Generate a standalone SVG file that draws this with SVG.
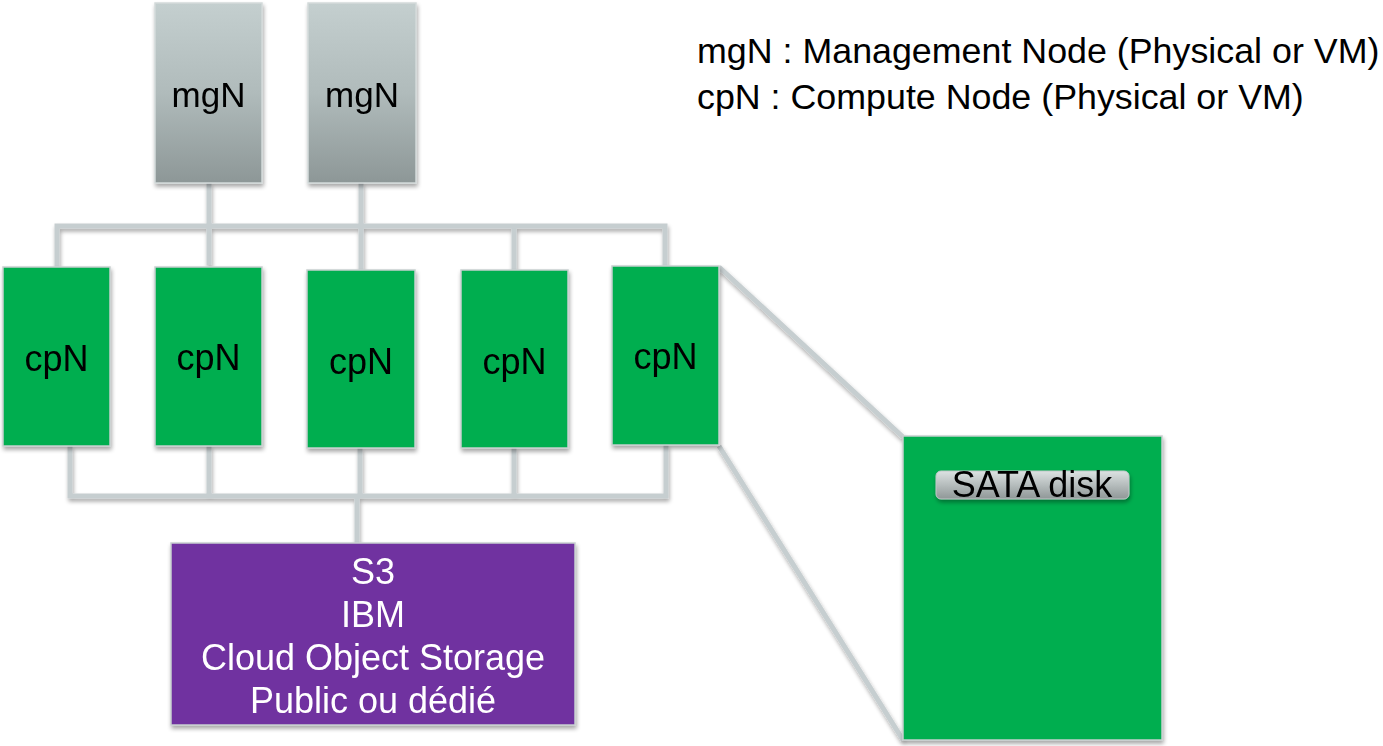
<svg xmlns="http://www.w3.org/2000/svg" width="1383" height="746" viewBox="0 0 1383 746">
<style>
.lbl{font-family:"Liberation Sans",Arial,sans-serif;font-size:36px;fill:#000;text-anchor:middle}
.mgl{font-size:35px}
.wlbl{font-family:"Liberation Sans",Arial,sans-serif;font-size:36px;fill:#fff;text-anchor:middle}
.leg{font-family:"Liberation Sans",Arial,sans-serif;font-size:35.8px;fill:#000}
.mg{fill:url(#gGray);stroke:#d3dada;stroke-width:1.5}
.cp{fill:#00AE4F;stroke:#c7cfcf;stroke-width:1.5}
.st{fill:#7030A0;stroke:#c7cfcf;stroke-width:1.5}
.conn{fill:none;stroke:#C6CED0;stroke-width:5;stroke-linejoin:miter}
</style>
<defs>
<linearGradient id="gGray" x1="0" y1="0" x2="0" y2="1">
<stop offset="0" stop-color="#C4CFCF"/>
<stop offset="0.5" stop-color="#B0BBBB"/>
<stop offset="1" stop-color="#8D9797"/>
</linearGradient>
<linearGradient id="gBtn" x1="0" y1="0" x2="0" y2="1">
<stop offset="0" stop-color="#DCE2E2"/>
<stop offset="1" stop-color="#8F9797"/>
</linearGradient>
<filter id="sh" x="-10%" y="-10%" width="130%" height="130%">
<feGaussianBlur in="SourceAlpha" stdDeviation="2"/>
<feOffset dx="1" dy="3" result="b"/>
<feComponentTransfer><feFuncA type="linear" slope="0.35"/></feComponentTransfer>
<feMerge><feMergeNode/><feMergeNode in="SourceGraphic"/></feMerge>
</filter>
</defs>
<rect width="1383" height="746" fill="#fff"/>
<g id="connectors" filter="url(#sh)">
<path class="conn" d="M209,183 V265"/>
<path class="conn" d="M361,183 V270"/>
<path class="conn" d="M57,267 V226 H665 V266"/>
<path class="conn" d="M514,226 V270"/>
<path class="conn" d="M70,446 V496 H666 V445"/>
<path class="conn" d="M209,446 V496"/>
<path class="conn" d="M360,448 V496"/>
<path class="conn" d="M514,448 V496"/>
<path class="conn" d="M357,496 V543"/>
<path class="conn" d="M719,267 L903,437"/>
<path class="conn" d="M719,446 L903,740"/>
</g>
<g id="mgN1" filter="url(#sh)"><rect class="mg" x="155" y="3" width="107" height="180"/><text class="lbl mgl" x="208.5" y="107">mgN</text></g>
<g id="mgN2" filter="url(#sh)"><rect class="mg" x="308" y="3" width="108" height="180"/><text class="lbl mgl" x="362" y="107">mgN</text></g>
<g id="cpN1" filter="url(#sh)"><rect class="cp" x="3" y="267" width="107" height="179"/><text class="lbl" x="56.5" y="371">cpN</text></g>
<g id="cpN2" filter="url(#sh)"><rect class="cp" x="155" y="267" width="107" height="179"/><text class="lbl" x="208.5" y="370">cpN</text></g>
<g id="cpN3" filter="url(#sh)"><rect class="cp" x="307" y="270" width="108" height="178"/><text class="lbl" x="361" y="374">cpN</text></g>
<g id="cpN4" filter="url(#sh)"><rect class="cp" x="461" y="270" width="107" height="178"/><text class="lbl" x="514.5" y="374">cpN</text></g>
<g id="cpN5" filter="url(#sh)"><rect class="cp" x="612" y="266" width="107" height="179"/><text class="lbl" x="665.5" y="369">cpN</text></g>
<g id="storage" filter="url(#sh)"><rect class="st" x="171" y="543" width="404" height="182"/>
<text class="wlbl" x="373" y="584">S3</text>
<text class="wlbl" x="373" y="627">IBM</text>
<text class="wlbl" x="373" y="670">Cloud Object Storage</text>
<text class="wlbl" x="373" y="713">Public ou dédié</text>
</g>
<g id="detail" filter="url(#sh)"><rect class="cp" x="903" y="436" width="259" height="304"/></g>
<g id="sata" filter="url(#sh)"><rect x="936" y="471" width="193" height="28" rx="5" fill="url(#gBtn)" stroke="#c0c8c8" stroke-width="1"/><text class="lbl" x="1032" y="497">SATA disk</text></g>
<g id="legend">
<text class="leg" x="697" y="63">mgN : Management Node (Physical or VM)</text>
<text class="leg" x="697" y="109">cpN : Compute Node (Physical or VM)</text>
</g>
</svg>
